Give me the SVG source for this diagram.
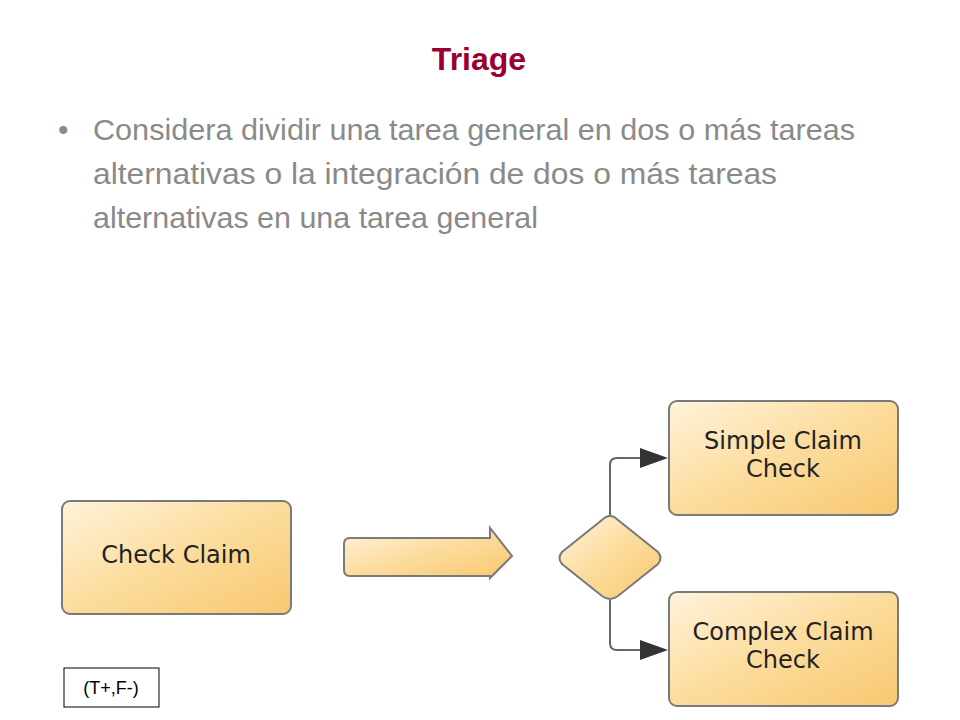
<svg xmlns="http://www.w3.org/2000/svg" width="960" height="720" viewBox="0 0 960 720">
<defs>
<linearGradient id="g" x1="0" y1="0" x2="1" y2="1"><stop offset="0" stop-color="#fff3dc"/><stop offset="0.5" stop-color="#fcdc9c"/><stop offset="1" stop-color="#f8c870"/></linearGradient>
<style>
.n{fill:url(#g);stroke:#7a7a7a;stroke-width:2}
.t{font-family:"DejaVu Sans",Verdana,sans-serif;font-size:24px;fill:#222;text-anchor:middle}
.b{font-family:"Liberation Sans Narrow","Liberation Sans",Arial,sans-serif;font-size:30px;fill:#8a8a8a}
.c{fill:none;stroke:#666;stroke-width:2}
</style>
</defs>
<rect width="960" height="720" fill="#fff"/>
<text x="479" y="70" text-anchor="middle" font-family="'Liberation Sans Narrow','Liberation Sans',Arial,sans-serif" font-weight="bold" font-size="32" fill="#990033">Triage</text>
<text class="b" x="58" y="140">•</text>
<text class="b" x="93" y="140" textLength="762" lengthAdjust="spacingAndGlyphs">Considera dividir una tarea general en dos o más tareas</text>
<text class="b" x="93" y="184" textLength="684" lengthAdjust="spacingAndGlyphs">alternativas o la integración de dos o más tareas</text>
<text class="b" x="93" y="228" textLength="445" lengthAdjust="spacingAndGlyphs">alternativas en una tarea general</text>
<g id="connectors">
<path class="c" d="M610,516 V465 Q610,458 617,458 H640"/>
<path d="M640,448 L668,458 L640,468 z" fill="#333"/>
<path class="c" d="M610,600 V643 Q610,650 617,650 H640"/>
<path d="M640,640 L668,650 L640,660 z" fill="#333"/>
</g>
<g id="check-claim"><rect class="n" x="62" y="501" width="229" height="113" rx="8"/><text class="t" x="176" y="563" font-size="25">Check Claim</text></g>
<g id="big-arrow"><path class="n" d="M350,538 H490 L490,528 L512,556 L490,578 L490,576 H350 Q344,576 344,570 V544 Q344,538 350,538 z"/></g>
<g id="decision"><path class="n" d="M610,516 Q614,516 618,520 L658,552 Q663,558 658,564 L618,596 Q610,602 602,596 L562,564 Q557,558 562,552 L602,520 Q606,516 610,516 z"/></g>
<g id="simple"><rect class="n" x="669" y="401" width="229" height="114" rx="8"/><text class="t" x="783" y="449">Simple Claim</text><text class="t" x="783" y="477">Check</text></g>
<g id="complex"><rect class="n" x="669" y="592" width="229" height="114" rx="8"/><text class="t" x="783" y="640">Complex Claim</text><text class="t" x="783" y="668">Check</text></g>
<g id="label"><rect x="64" y="668" width="95" height="39" fill="#fff" stroke="#000" stroke-width="1"/><text x="111" y="694" text-anchor="middle" font-family="'Liberation Sans',Arial,sans-serif" font-size="18" fill="#000">(T+,F-)</text></g>
</svg>
